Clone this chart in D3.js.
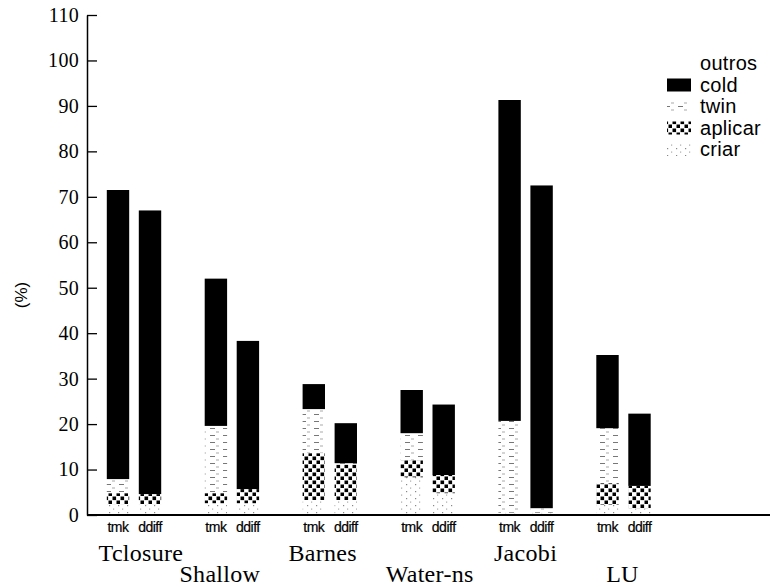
<!DOCTYPE html>
<html><head><meta charset="utf-8">
<script src="https://cdn.jsdelivr.net/npm/d3@7"></script>
<style>body{margin:0;background:#fff}</style></head>
<body><svg id="c" width="770" height="587"></svg>
<script>
const groups = ["Tclosure","Shallow","Barnes","Water-ns","Jacobi","LU"];
const variants = ["tmk","ddiff"];
const layers = ["criar","aplicar","twin","cold","outros"];
const legendOrder = ["outros","cold","twin","aplicar","criar"];
const yTicks = [0,10,20,30,40,50,60,70,80,90,100,110];

const criarTmk   = [2.4, 2.6, 3.3, 8.3, 0.5, 2.2];
const aplicarTmk = [2.4, 2.2, 10.3, 3.8, 0.0, 4.8];
const twinTmk    = [3.1, 14.8, 9.7, 5.9, 20.2, 12.1];
const coldTmk    = [63.6, 32.4, 5.5, 9.5, 70.6, 16.1];
const outrosTmk  = [0, 0, 0, 0, 0, 0];

const criarDdiff   = [2.4, 2.6, 3.3, 4.8, 0.5, 1.5];
const aplicarDdiff = [2.2, 3.1, 7.8, 4.0, 0.0, 4.9];
const twinDdiff    = [0.0, 0.0, 0.3, 0.0, 1.0, 0.0];
const coldDdiff    = [62.4, 32.6, 8.8, 15.5, 71.0, 15.9];
const outrosDdiff  = [0, 0, 0, 0, 0, 0];

// styling only: horizontal nudges of the group names
const labelNudge = [7, -12, -7, 2, 0, -1];

const rows = [];
groups.forEach((g,i)=>{
  rows.push({group:g, variant:"tmk", criar:criarTmk[i], aplicar:aplicarTmk[i], twin:twinTmk[i], cold:coldTmk[i], outros:outrosTmk[i]});
  rows.push({group:g, variant:"ddiff", criar:criarDdiff[i], aplicar:aplicarDdiff[i], twin:twinDdiff[i], cold:coldDdiff[i], outros:outrosDdiff[i]});
});

const svg = d3.select("#c");
const defs = svg.append("defs");

// criar: sparse grey dots
const pC = defs.append("pattern").attr("id","p-criar").attr("patternUnits","userSpaceOnUse").attr("width",9).attr("height",7);
pC.append("rect").attr("width",9).attr("height",7).attr("fill","#fff");
pC.append("rect").attr("x",1).attr("y",1).attr("width",1.2).attr("height",1.2).attr("fill","#888");
pC.append("rect").attr("x",5).attr("y",4.5).attr("width",1.2).attr("height",1.2).attr("fill","#aaa");
// aplicar: checkerboard
const pA = defs.append("pattern").attr("id","p-aplicar").attr("patternUnits","userSpaceOnUse").attr("width",8).attr("height",8);
pA.append("rect").attr("width",8).attr("height",8).attr("fill","#fff");
pA.append("rect").attr("x",0.5).attr("y",0.5).attr("width",3.6).attr("height",3.6).attr("fill","#000");
pA.append("rect").attr("x",4.5).attr("y",4.5).attr("width",3.6).attr("height",3.6).attr("fill","#000");
// twin: sparse horizontal dashes
const pT = defs.append("pattern").attr("id","p-twin").attr("patternUnits","userSpaceOnUse").attr("width",13).attr("height",7);
pT.append("rect").attr("width",13).attr("height",7).attr("fill","#fff");
pT.append("rect").attr("x",2).attr("y",1).attr("width",5).attr("height",1).attr("fill","#777");
pT.append("rect").attr("x",8).attr("y",4.5).attr("width",3).attr("height",1).attr("fill","#aaa");

const fills = {criar:"url(#p-criar)", aplicar:"url(#p-aplicar)", twin:"url(#p-twin)", cold:"#000", outros:"#fff"};

const y = d3.scaleLinear().domain([0,110]).range([515,15]);
const x0 = d3.scaleBand().domain(groups).range([85, 85 + 6*97.9]);
const x1 = d3.scaleBand().domain(variants).range([17, 81]).paddingInner(0.3).paddingOuter(0.15);

const stack = d3.stack().keys(layers);
const series = stack(rows);

const gBars = svg.append("g");
series.forEach(s=>{
  gBars.selectAll(null).data(s).join("rect")
    .attr("x", d=>x0(d.data.group)+x1(d.data.variant))
    .attr("width", x1.bandwidth())
    .attr("y", d=>y(d[1]))
    .attr("height", d=>Math.max(0, y(d[0])-y(d[1])))
    .attr("fill", fills[s.key]);
});

// Y axis
const yAxis = d3.axisLeft(y).tickValues(yTicks).tickSizeInner(-10).tickSizeOuter(0).tickPadding(8);
const gy = svg.append("g").attr("transform","translate(87,0)").call(yAxis);
gy.select(".domain").attr("stroke","#000").attr("stroke-width",1.5);
gy.selectAll(".tick line").attr("stroke","#000").attr("stroke-width",1.3);
gy.selectAll(".tick text").attr("font-family","'Liberation Serif', serif").attr("font-size",20).attr("letter-spacing",0.3).attr("fill","#000");

// X baseline
const xLine = d3.scaleLinear().domain([0,1]).range([87,770]);
svg.append("line").attr("x1",xLine(0)).attr("x2",xLine(1)).attr("y1",y(0)).attr("y2",y(0)).attr("stroke","#000").attr("stroke-width",2);

// variant labels
const gv = svg.append("g");
rows.forEach(r=>{
  gv.append("text")
    .attr("x", x0(r.group)+x1(r.variant)+x1.bandwidth()/2)
    .attr("y", 532)
    .attr("text-anchor","middle")
    .attr("font-family","'Liberation Sans', Arial, sans-serif")
    .attr("font-size",14)
    .attr("letter-spacing",-0.5)
    .attr("stroke","#000").attr("stroke-width",0.2)
    .text(r.variant);
});

// group labels (staggered)
groups.forEach((g,i)=>{
  svg.append("text")
    .attr("x", x0(g)+x0.bandwidth()/2 + labelNudge[i])
    .attr("y", i%2===0 ? 561 : 582)
    .attr("text-anchor","middle")
    .attr("font-family","'Liberation Serif', 'Times New Roman', serif")
    .attr("font-size",24)
    .attr("letter-spacing",0.3)
    .text(g);
});

// y title
svg.append("text").attr("transform","translate(27,295) rotate(-90)")
  .attr("text-anchor","middle")
  .attr("font-family","'Liberation Sans', Arial, sans-serif")
  .attr("font-size",17)
  .text("(%)");

// legend
const lg = svg.append("g");
legendOrder.forEach((k,i)=>{
  const by = 70 + i*21.5;
  if (k!=="outros") {
    lg.append("rect").attr("x",667).attr("y",by-13).attr("width",24).attr("height",13).attr("fill",fills[k]);
  }
  lg.append("text").attr("x",700).attr("y",by)
    .attr("font-family","'Liberation Sans', Arial, sans-serif")
    .attr("font-size",20)
    .attr("letter-spacing",0.3)
    .text(k);
});
</script>
</body></html>
